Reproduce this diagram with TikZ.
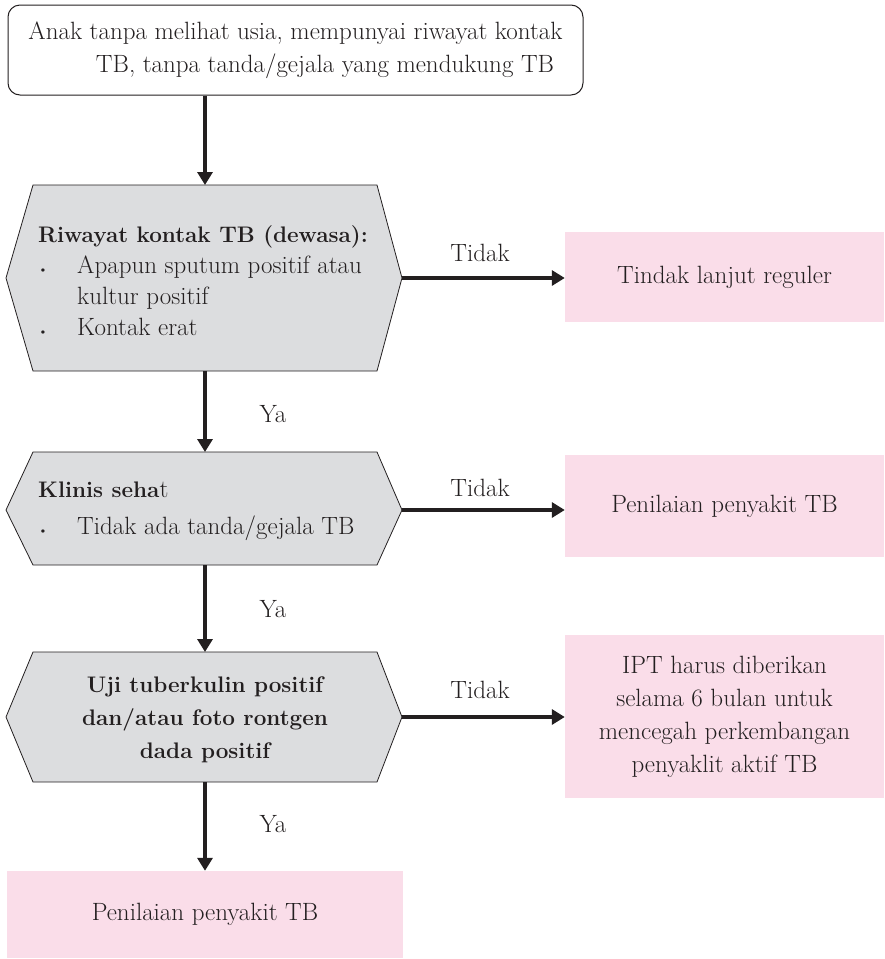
\documentclass[tikz,border=0pt]{standalone}
\usetikzlibrary{arrows.meta}
\definecolor{hexfill}{HTML}{DCDDDF}
\definecolor{pinkfill}{HTML}{FADDE9}
\definecolor{ink}{HTML}{231F20}
\newcommand{\boldtxt}{\fontsize{22.5}{33}\selectfont\bfseries}
\begin{document}
\begin{tikzpicture}[x=1pt,y=-1pt,
  every node/.style={text=ink, font=\fontsize{25}{33}\selectfont, inner sep=0pt},
  flow/.style={draw=ink, line width=4.5pt, -{Triangle[length=13pt,width=15pt]}},
  hexa/.style={draw=ink, line width=0.8pt, fill=hexfill, line join=miter},
  pinkbox/.style={fill=pinkfill, align=center},
  bul/.style={anchor=base, font=\fontsize{15}{15}\selectfont},
  lbl/.style={anchor=base}]
\useasboundingbox (0,0) rectangle (884,959);

% start box
\node[draw=ink, line width=1pt, rounded corners=12pt, minimum width=575pt,
      minimum height=90pt, align=left] (start) at (295.5,50)
  {Anak tanpa melihat usia, mempunyai riwayat kontak\\
   \hspace*{2.7em}TB, tanpa tanda/gejala yang mendukung TB};

% decision 1
\path[hexa] (6,278) -- (33,185) -- (377,185) -- (402,278) -- (377,371) -- (33,371) -- cycle;
\coordinate (h1n) at (205,185);
\coordinate (h1s) at (205,371);
\coordinate (h1e) at (402,278);
\node[anchor=base west, font=\boldtxt] (h1a) at (38,242) {Riwayat kontak TB (dewasa):};
\node[bul] (h1b1) at (43,274) {\textbullet};
\node[anchor=base west] (h1b) at (77,273) {Apapun sputum positif atau};
\node[anchor=base west] (h1c) at (77,304) {kultur positif};
\node[bul] (h1b2) at (43,336) {\textbullet};
\node[anchor=base west] (h1d) at (77,335) {Kontak erat};

% decision 2
\path[hexa] (6,510) -- (33,452) -- (377,452) -- (402,510) -- (377,565) -- (33,565) -- cycle;
\coordinate (h2n) at (205,452);
\coordinate (h2s) at (205,565);
\coordinate (h2e) at (402,510);
\node[anchor=base west] (h2a) at (38,497) {{\boldtxt Klinis seha}t};
\node[bul] (h2b1) at (43,535) {\textbullet};
\node[anchor=base west] (h2b) at (77,534) {Tidak ada tanda/gejala TB};

% decision 3
\path[hexa] (6,717) -- (33,652) -- (377,652) -- (402,717) -- (377,782) -- (33,782) -- cycle;
\coordinate (h3n) at (205,652);
\coordinate (h3s) at (205,782);
\coordinate (h3e) at (402,717);
\node[align=center, font=\boldtxt] (h3t) at (205,720)
  {Uji tuberkulin positif\\dan/atau foto rontgen\\dada positif};

% outcome boxes
\node[pinkbox, minimum width=319pt, minimum height=90pt] (p1) at (724.5,277) {Tindak lanjut reguler};
\node[pinkbox, minimum width=319pt, minimum height=102pt] (p2) at (724.5,506) {Penilaian penyakit TB};
\node[pinkbox, minimum width=319pt, minimum height=163pt] (p3) at (724.5,716.5)
  {IPT harus diberikan\\selama 6 bulan untuk\\mencegah perkembangan\\penyaklit aktif TB};
\node[pinkbox, minimum width=396pt, minimum height=87pt] (p4) at (205,914.5) {Penilaian penyakit TB};

% connectors
\draw[flow] (start.south -| h1n) -- (h1n);
\draw[flow] (h1s) -- (h2n);
\draw[flow] (h2s) -- (h3n);
\draw[flow] (h3s) -- (p4.north);
\draw[flow] (h1e) -- (p1.west |- h1e);
\draw[flow] (h2e) -- (p2.west |- h2e);
\draw[flow] (h3e) -- (p3.west |- h3e);

% branch labels
\node[lbl] (t1) at (480,261) {Tidak};
\node[lbl] (t2) at (480,496) {Tidak};
\node[lbl] (t3) at (480,698) {Tidak};
\node[lbl] (y1) at (273,422) {Ya};
\node[lbl] (y2) at (273,617) {Ya};
\node[lbl] (y3) at (273,832) {Ya};
\end{tikzpicture}
\end{document}
